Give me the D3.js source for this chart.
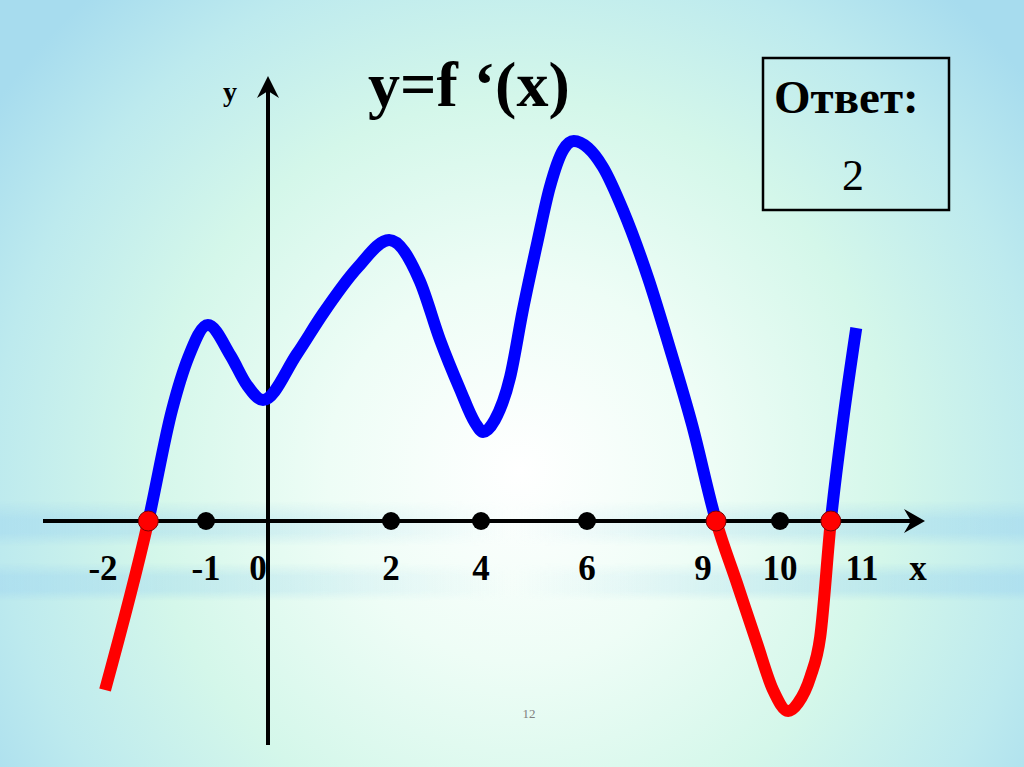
<!DOCTYPE html>
<html>
<head>
<meta charset="utf-8">
<script src="https://cdn.jsdelivr.net/npm/d3@7"></script>
<style>
  body { margin: 0; overflow: hidden; }
  svg { display: block; }
</style>
</head>
<body>
<div id="chart"></div>
<script>
// tick labels on the x axis (the axis is drawn schematically, not to scale)
const xTicks = [-2, -1, 0, 2, 4, 6, 9, 10, 11];
// points marked with black dots
const markedX = [-1, 2, 4, 6, 10];
// zeros of f'(x), marked red
const rootsX = [-1.56, 9.17, 10.62];

// the graph of y = f'(x)
const curveX = [-1.98, -1.56, -1.33, -1.17, -0.97,
  -0.60, -0.34, -0.08,
  0.47, 0.89, 1.45, 1.97,
  2.64, 3.09, 3.53, 3.87, 4.04,
  4.26, 4.55, 4.79, 5.06, 5.30, 5.55, 5.75,
  6.03, 6.41, 6.93, 7.58, 8.14, 8.72, 9.17, 9.44, 9.70, 9.91, 10.10,
  10.22, 10.37, 10.49, 10.62, 10.77, 10.93];
const curveY = [-3.38, 0, 2.22, 3.28, 3.92,
  3.30, 2.72, 2.42,
  3.34, 4.14, 5.06, 5.62,
  4.80, 3.62, 2.64, 1.96, 1.78,
  2.02, 2.88, 4.22, 5.56, 6.68, 7.42, 7.60,
  7.46, 7.08, 6.22, 4.86, 3.46, 1.92, 0, -1.24, -2.44, -3.38, -3.80,
  -3.64, -3.12, -2.32, 0, 2.02, 3.86];

const title = "y=f \u2018(x)";
const answerLabel = "Ответ:";
const answerValue = "2";
const pageNumber = "12";

const width = 1024, height = 767;
const serif = "'Liberation Serif', 'Times New Roman', serif";

const svg = d3.select("#chart").append("svg")
    .attr("width", width)
    .attr("height", height);

// schematic axis: piecewise linear scale through the tick positions
const x = d3.scaleLinear()
    .domain(xTicks)
    .range([103, 206, 268, 391, 481, 587, 703, 780, 862]);
const y = d3.scaleLinear()
    .domain([-4, 8])
    .range([721, 121]);

// background
const defs = svg.append("defs");
const bg = defs.append("radialGradient")
    .attr("id", "bg")
    .attr("gradientUnits", "userSpaceOnUse")
    .attr("cx", 520).attr("cy", 470).attr("r", 640);
[[0, "#ffffff"], [0.3, "#eefdf6"], [0.58, "#d4f7ea"], [0.82, "#bdeaee"], [1, "#a7dcee"]]
  .forEach(d => bg.append("stop").attr("offset", d[0]).attr("stop-color", d[1]));

const band = defs.append("linearGradient").attr("id", "band");
[[0, 0.7], [0.3, 0.3], [0.5, 0], [0.7, 0.3], [1, 0.7]]
  .forEach(d => band.append("stop").attr("offset", d[0])
      .attr("stop-color", "#a9dcef").attr("stop-opacity", d[1]));

const stripes = defs.append("linearGradient").attr("id", "stripes")
    .attr("x1", 0).attr("y1", 0).attr("x2", 0).attr("y2", 1);
[[0, "#000"], [0.18, "#fff"], [0.32, "#fff"], [0.45, "#000"], [0.62, "#000"], [0.75, "#fff"], [0.9, "#fff"], [1, "#000"]]
  .forEach(d => stripes.append("stop").attr("offset", d[0]).attr("stop-color", d[1]));
defs.append("mask").attr("id", "bandMask")
    .attr("maskContentUnits", "objectBoundingBox")
  .append("rect").attr("width", 1).attr("height", 1).attr("fill", "url(#stripes)");

svg.append("rect").attr("width", width).attr("height", height).attr("fill", "url(#bg)");
svg.append("rect")
    .attr("x", 0).attr("y", y(0) - 20)
    .attr("width", width).attr("height", 100)
    .attr("fill", "url(#band)")
    .attr("mask", "url(#bandMask)");

// clip regions: above / below the x axis
defs.append("clipPath").attr("id", "above")
  .append("rect").attr("x", 0).attr("y", 0).attr("width", width).attr("height", y(0));
defs.append("clipPath").attr("id", "below")
  .append("rect").attr("x", 0).attr("y", y(0)).attr("width", width).attr("height", height - y(0));

// axes
const axisColor = "#000";
const x0 = y(0), yAxisX = x(0);
svg.append("line")
    .attr("x1", x(-2) - 60).attr("x2", x(11) + 56)
    .attr("y1", x0).attr("y2", x0)
    .attr("stroke", axisColor).attr("stroke-width", 4);
svg.append("line")
    .attr("x1", yAxisX).attr("x2", yAxisX)
    .attr("y1", height - 22).attr("y2", y(8) - 35)
    .attr("stroke", axisColor).attr("stroke-width", 4);

// arrow heads
const xTip = x(11) + 63, yTip = y(8) - 45;
svg.append("path")
    .attr("d", `M${xTip},${x0} L${xTip - 21},${x0 - 12} L${xTip - 14},${x0} L${xTip - 21},${x0 + 12} Z`)
    .attr("fill", axisColor);
svg.append("path")
    .attr("d", `M${yAxisX},${yTip} L${yAxisX - 11},${yTip + 22} L${yAxisX},${yTip + 15} L${yAxisX + 11},${yTip + 22} Z`)
    .attr("fill", axisColor);

// the curve: blue where f'(x) > 0, red where f'(x) < 0
const pts = curveX.map((d, i) => [x(d), y(curveY[i])]);
const line = d3.line().curve(d3.curveMonotoneX);
[["above", "#0000ff"], ["below", "#ff0000"]].forEach(([clip, color]) => {
  svg.append("path")
      .attr("d", line(pts))
      .attr("clip-path", `url(#${clip})`)
      .attr("fill", "none")
      .attr("stroke", color)
      .attr("stroke-width", 12)
      .attr("stroke-linecap", "butt")
      .attr("stroke-linejoin", "round");
});

// marked points
svg.selectAll("circle.mark")
  .data(markedX)
  .join("circle")
    .attr("class", "mark")
    .attr("cx", d => x(d))
    .attr("cy", x0)
    .attr("r", 9)
    .attr("fill", "#000");

svg.selectAll("circle.root")
  .data(rootsX)
  .join("circle")
    .attr("class", "root")
    .attr("cx", d => x(d))
    .attr("cy", x0)
    .attr("r", 10)
    .attr("fill", "#ff0000")
    .attr("stroke", "#7a0000")
    .attr("stroke-width", 1);

// tick labels
svg.selectAll("text.tick")
  .data(xTicks)
  .join("text")
    .attr("class", "tick")
    .attr("x", d => x(d) + (d === 0 ? -10 : 0))
    .attr("y", x0 + 59)
    .attr("text-anchor", "middle")
    .style("font-family", serif)
    .style("font-weight", "bold")
    .style("font-size", "35px")
    .text(d => d);

svg.append("text")
    .attr("x", x(11) + 56).attr("y", x0 + 59)
    .attr("text-anchor", "middle")
    .style("font-family", serif).style("font-weight", "bold").style("font-size", "35px")
    .text("x");

svg.append("text")
    .attr("x", yAxisX - 38).attr("y", 101)
    .attr("text-anchor", "middle")
    .style("font-family", serif).style("font-weight", "bold").style("font-size", "28px")
    .text("y");

// title
svg.append("text")
    .attr("x", 368).attr("y", 106)
    .style("font-family", serif).style("font-weight", "bold").style("font-size", "64px")
    .text(title);

// answer box
const box = svg.append("g").attr("transform", "translate(763,58)");
box.append("rect")
    .attr("width", 186).attr("height", 152)
    .attr("fill", "none").attr("stroke", "#000").attr("stroke-width", 2.5);
box.append("text")
    .attr("x", 11).attr("y", 55)
    .style("font-family", serif).style("font-weight", "bold").style("font-size", "47px")
    .text(answerLabel);
box.append("text")
    .attr("x", 90).attr("y", 132)
    .attr("text-anchor", "middle")
    .style("font-family", serif).style("font-size", "44px")
    .text(answerValue);

// page number
svg.append("text")
    .attr("x", 529).attr("y", 718)
    .attr("text-anchor", "middle")
    .style("font-family", serif).style("font-size", "13px")
    .attr("fill", "#7f7f7f")
    .text(pageNumber);
</script>
</body>
</html>
